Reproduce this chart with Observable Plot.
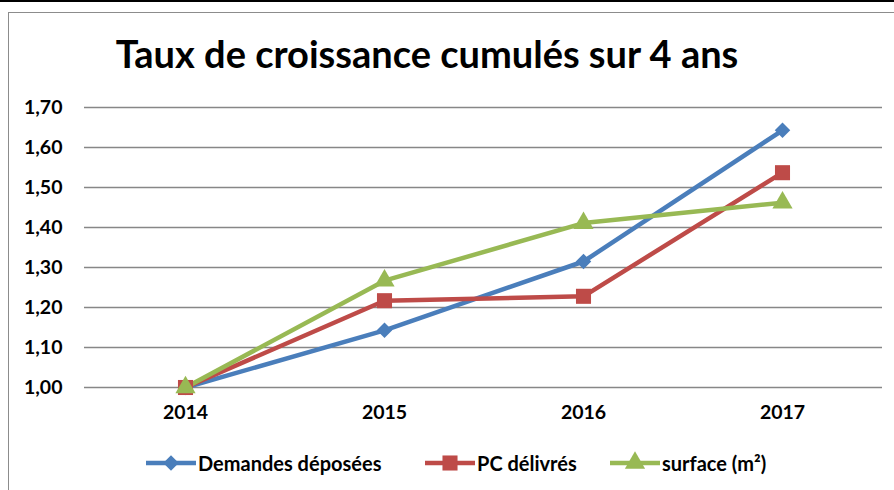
<!DOCTYPE html>
<html><head><meta charset="utf-8">
<script src="https://cdn.jsdelivr.net/npm/d3@7"></script>
<script src="https://cdn.jsdelivr.net/npm/@observablehq/plot@0.6"></script>
<style>
body{margin:0;background:#fff;font-family:Lato,"Open Sans",sans-serif;}
#wrap{position:relative;width:894px;height:490px;overflow:hidden;background:#fff;}
#topline{position:absolute;left:0;top:0;width:894px;height:2px;background:#000;}
#box{position:absolute;left:8px;top:12px;width:900px;height:500px;border:1.5px solid #8c8c8c;box-sizing:border-box;}
#title{position:absolute;left:0;width:854px;top:30px;text-align:center;font-weight:700;font-size:38px;color:#000;white-space:nowrap;}
#chart{position:absolute;left:0;top:90px;}
#legend{position:absolute;top:450px;left:0;width:894px;font-weight:700;font-size:20px;}
.item{position:absolute;display:flex;align-items:center;white-space:nowrap;}
.item svg{display:block;}
</style></head>
<body><div id="wrap"><div id="topline"></div><div id="box"></div>
<div id="title">Taux de croissance cumulés sur 4 ans</div>
<div id="chart"></div><div id="legend"></div></div>
<script>
const years = ["2014","2015","2016","2017"];
const demandes = [1.00, 1.143, 1.315, 1.643];
const pcDelivres = [1.00, 1.217, 1.228, 1.537];
const surface = [1.00, 1.267, 1.411, 1.462];
const yTicks = [1.0,1.1,1.2,1.3,1.4,1.5,1.6,1.7];
const seriesNames = ["Demandes déposées","PC délivrés","surface (m²)"];
const seriesColors = ["#4a7ebb","#be4b48","#98b954"];
const seriesSymbols = ["diamond2","square","triangle"];
const seriesR = [7,8.5,7.5];
const seriesValues = [demandes, pcDelivres, surface];

const fmt = d => d.toFixed(2).replace(".", ",");
const marks = [
  Plot.ruleY(yTicks, {stroke:"#878787", strokeWidth:1.6}),
  Plot.axisY({ticks: yTicks, tickFormat: fmt, tickSize:0, tickPadding:22, fontSize:19.5, fontWeight:700, fill:"#000", label:null}),
  Plot.axisX({tickSize:0, tickPadding:18, fontSize:19.5, fontWeight:700, fill:"#000", label:null})
];
seriesNames.forEach((name,i)=>{
  const data = years.map((y,j)=>({year:y, value:seriesValues[i][j]}));
  marks.push(Plot.line(data,{x:"year",y:"value",stroke:seriesColors[i],strokeWidth:4.5,curve:"linear"}));
});
seriesNames.forEach((name,i)=>{
  const data = years.map((y,j)=>({year:y, value:seriesValues[i][j]}));
  marks.push(Plot.dot(data,{x:"year",y:"value",symbol:()=>seriesSymbols[i],fill:seriesColors[i],r:seriesR[i],stroke:"none"}));
});
const chart = Plot.plot({
  width:894, height:345,
  marginLeft:84, marginRight:12, marginTop:17, marginBottom:48,
  style:{fontFamily:"Lato, 'Open Sans', sans-serif", background:"transparent", overflow:"visible"},
  x:{type:"point", domain:years, padding:0.5},
  y:{domain:[1,1.7]},
  symbol:{type:"identity"},
  marks
});
document.getElementById("chart").appendChild(chart);

const legendX = [146, 425, 610];
const leg = document.getElementById("legend");
seriesNames.forEach((name,i)=>{
  const it = document.createElement("div");
  it.className="item"; it.style.left = legendX[i]+"px";
  const svg = d3.create("svg").attr("width",50).attr("height",26);
  svg.append("line").attr("x1",0).attr("x2",50).attr("y1",13).attr("y2",13).attr("stroke",seriesColors[i]).attr("stroke-width",4.5);
  svg.append("path").attr("transform","translate(25,13)").attr("fill",seriesColors[i])
    .attr("d", d3.symbol(i===0?d3.symbolDiamond2:i===1?d3.symbolSquare:d3.symbolTriangle, Math.PI*seriesR[i]*seriesR[i])());
  it.appendChild(svg.node());
  const t = document.createElement("span"); t.textContent=name; t.style.marginLeft="2px";
  it.appendChild(t);
  leg.appendChild(it);
});
</script></body></html>
